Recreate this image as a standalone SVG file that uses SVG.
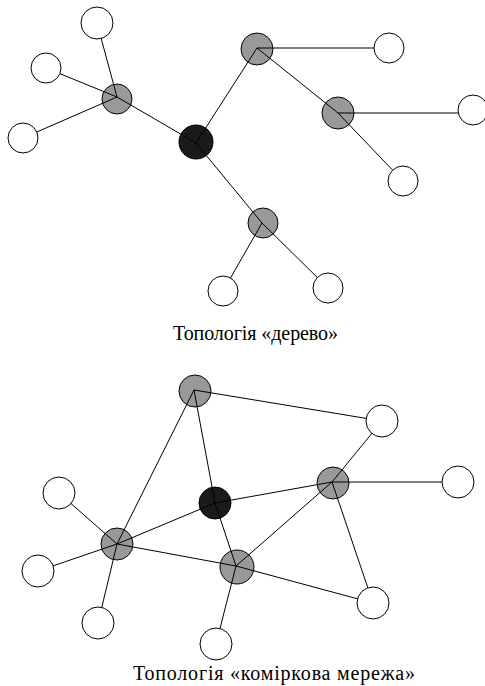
<svg xmlns="http://www.w3.org/2000/svg" width="485" height="686" viewBox="0 0 485 686">
<style>
.g{fill:#999999;stroke:#000;stroke-width:1}
.b{fill:#1a1a1a;stroke:#000;stroke-width:1}
.w{fill:#fff;stroke:#000;stroke-width:1}
.e{stroke:#000;stroke-width:1;fill:none}
.t{font-family:"Liberation Serif","Times New Roman",serif;font-size:20px;fill:#000}
</style>
<rect width="485" height="686" fill="#fff"/>
<g id="tree-hubs">
<g id="t-black"><circle class="b" cx="196" cy="142" r="17"/></g>
<g id="t-gray1"><circle class="g" cx="117" cy="99" r="15"/></g>
<g id="t-gray2"><circle class="g" cx="257" cy="49" r="16"/></g>
<g id="t-gray3"><circle class="g" cx="338" cy="113" r="16"/></g>
<g id="t-gray4"><circle class="g" cx="263" cy="223" r="15"/></g>
</g>
<g id="mesh-hubs">
<g id="m-black"><circle class="b" cx="215" cy="503" r="16"/></g>
<g id="m-gray-top"><circle class="g" cx="195" cy="391" r="16"/></g>
<g id="m-gray-left"><circle class="g" cx="117" cy="544" r="16"/></g>
<g id="m-gray-bottom"><circle class="g" cx="237" cy="567" r="17"/></g>
<g id="m-gray-right"><circle class="g" cx="333" cy="483" r="16"/></g>
</g>
<g id="connectors">
<line class="e" x1="97" y1="23" x2="117" y2="97"/>
<line class="e" x1="46" y1="68" x2="117" y2="97"/>
<line class="e" x1="23" y1="138" x2="117" y2="97"/>
<line class="e" x1="117" y1="97" x2="196" y2="143"/>
<line class="e" x1="196" y1="143" x2="257" y2="48"/>
<line class="e" x1="257" y1="48" x2="389" y2="48"/>
<line class="e" x1="257" y1="48" x2="338" y2="113"/>
<line class="e" x1="338" y1="113" x2="403" y2="181"/>
<line class="e" x1="338" y1="113" x2="473" y2="113"/>
<line class="e" x1="196" y1="143" x2="262" y2="223"/>
<line class="e" x1="262" y1="223" x2="328" y2="288"/>
<line class="e" x1="262" y1="223" x2="223" y2="291"/>
<line class="e" x1="194" y1="390" x2="382" y2="421"/>
<line class="e" x1="194" y1="390" x2="117" y2="544"/>
<line class="e" x1="194" y1="390" x2="215" y2="503"/>
<line class="e" x1="215" y1="503" x2="236" y2="566"/>
<line class="e" x1="215" y1="503" x2="332" y2="482"/>
<line class="e" x1="215" y1="503" x2="117" y2="544"/>
<line class="e" x1="117" y1="544" x2="59" y2="493"/>
<line class="e" x1="117" y1="544" x2="38" y2="571"/>
<line class="e" x1="117" y1="544" x2="98" y2="623"/>
<line class="e" x1="117" y1="544" x2="236" y2="566"/>
<line class="e" x1="236" y1="566" x2="216" y2="644"/>
<line class="e" x1="236" y1="566" x2="373" y2="603"/>
<line class="e" x1="236" y1="566" x2="332" y2="482"/>
<line class="e" x1="332" y1="482" x2="382" y2="421"/>
<line class="e" x1="332" y1="482" x2="458" y2="482"/>
<line class="e" x1="332" y1="482" x2="373" y2="603"/>
</g>
<g id="tree-leaves">
<g id="t-w1"><circle class="w" cx="97" cy="23" r="16"/></g>
<g id="t-w2"><circle class="w" cx="46" cy="68" r="15"/></g>
<g id="t-w3"><circle class="w" cx="23" cy="138" r="15"/></g>
<g id="t-w4"><circle class="w" cx="389" cy="48" r="15"/></g>
<g id="t-w5"><circle class="w" cx="473" cy="110" r="15"/></g>
<g id="t-w6"><circle class="w" cx="403" cy="181" r="15"/></g>
<g id="t-w7"><circle class="w" cx="223" cy="291" r="15"/></g>
<g id="t-w8"><circle class="w" cx="328" cy="288" r="15"/></g>
</g>
<g id="mesh-leaves">
<g id="m-w1"><circle class="w" cx="382" cy="421" r="16"/></g>
<g id="m-w2"><circle class="w" cx="458" cy="482" r="16"/></g>
<g id="m-w3"><circle class="w" cx="59" cy="493" r="16"/></g>
<g id="m-w4"><circle class="w" cx="38" cy="571" r="16"/></g>
<g id="m-w5"><circle class="w" cx="98" cy="623" r="16"/></g>
<g id="m-w6"><circle class="w" cx="216" cy="644" r="16"/></g>
<g id="m-w7"><circle class="w" cx="373" cy="603" r="16"/></g>
</g>
<g id="captions">
<text class="t" x="173" y="340" textLength="165" lengthAdjust="spacing">Топологія «дерево»</text>
<text class="t" x="133" y="680" textLength="282" lengthAdjust="spacing">Топологія «коміркова мережа»</text>
</g>
</svg>
